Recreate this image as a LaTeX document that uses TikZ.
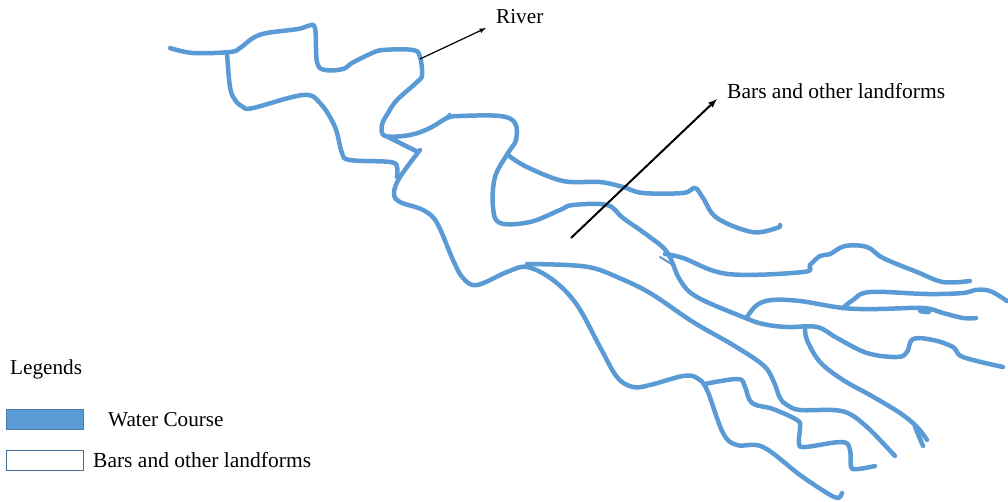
\documentclass[tikz,border=0pt]{standalone}
\usepackage{fontspec}
\setmainfont{Liberation Serif}
\usetikzlibrary{calc,arrows}
\definecolor{watercolor}{HTML}{5B9BD5}
\definecolor{edgecolor}{HTML}{41719C}
\tikzset{
	water/.style={draw=watercolor,line width=4.5pt,line cap=round,line join=round},
	label/.style={anchor=west,inner sep=0pt,font=\fontsize{21.2}{24}\selectfont},
	barlabel/.style={label,font=\fontsize{21.5}{24}\selectfont},
}
\begin{document}
\begin{tikzpicture}[x=1pt,y=-1pt]
			\useasboundingbox (0,0) rectangle (1008,501);
			\def \ten {0.6}
			
			%main river down to the first bend
			\draw [water] plot[smooth,tension=\ten] coordinates {(170,48) (193,53) (230,52) (240,48) (253,38) (267,33) (298,29) (308,26) (315,28) (317,62) (325,70) (343,69) (352,63) (370,54) (383,50) (413,50) (420,57) (422,75) (417,82) (397,100) (388,113) (382,125) (385,136) (410,135) (430,128) (447,118) (460,116) (500,116) (515,123) (516,140) (508,153) (495,177) (493,207) (500,223) (530,222) (560,210) (573,205) (607,205) (623,218) (647,235) (667,252) (680,280) (697,297) (743,317) (763,324) (787,327) (817,327) (837,338) (867,353) (897,357) (907,352) (913,339) (933,340) (953,347) (963,357) (1003,367)};
			\draw [water,line width=3pt] (444,120) -- (450,114);
			\draw [water,line width=2pt] (660,257) -- (673,265);
			
			%left loop
			\draw [water] plot[smooth,tension=\ten] coordinates {(227,53) (230,87) (235,100) (243,107) (253,108) (303,95) (320,103) (335,127) (342,153) (350,160) (390,162) (397,167) (397,177)};
			\draw [water] (388,137) -- (418,152);
			
			%lower channel
			\draw [water] plot[smooth,tension=\ten] coordinates {(420,150) (400,177) (394,193) (400,202) (423,210) (437,223) (453,260) (463,278) (477,285) (507,272) (527,267) (553,280) (577,305) (600,347) (617,377) (633,387) (650,385) (683,376) (697,378) (707,390) (723,433) (737,445) (763,447) (800,475) (827,493) (838,498) (842,493)};
			
			%second channel from the bar head
			\draw [water] plot[smooth,tension=\ten] coordinates {(527,264) (567,265) (593,268) (617,277) (650,293) (693,322) (733,345) (763,365) (773,380) (780,398) (787,405) (800,410) (833,410) (850,414) (867,427) (880,440) (895,456)};
			
			%upper branches
			\draw [water] plot[smooth,tension=\ten] coordinates {(508,155) (523,165) (550,177) (570,182) (600,182) (623,187) (643,193) (683,193) (695,188) (703,198) (717,218) (752,232) (777,228) (780,225)};
			\draw [water] plot[smooth,tension=\ten] coordinates {(665,254) (683,258) (728,274) (803,272) (810,265) (820,256) (830,254) (845,246) (867,247) (883,258) (917,272) (943,282) (970,281)};
			
			%right branches
			\draw [water] plot[smooth,tension=\ten] coordinates {(747,317) (757,305) (772,300) (800,301) (843,308) (877,309) (923,308) (943,313) (963,318) (976,318)};
			\draw [water,line width=7pt] (921,310) -- (928,311);
			\draw [water] plot[smooth,tension=\ten] coordinates {(843,308) (853,300) (870,292) (927,294) (963,293) (975,290) (990,291) (1007,301)};
			\draw [water] plot[smooth,tension=\ten] coordinates {(805,327) (807,340) (820,362) (843,380) (870,395) (900,413) (917,427) (927,440)};
			\draw [water] (915,427) -- (923,446);
			
			%bottom branch
			\draw [water] plot[smooth,tension=\ten] coordinates {(705,384) (738,379) (745,387) (752,403) (773,409) (797,420) (800,427) (799,443) (805,447) (842,442) (850,450) (851,467) (858,469) (875,466)};
			
			%arrows
			\coordinate (riverfoot) at (420,59);
			\coordinate (riverhead) at (486,28);
			\coordinate (barfoot) at (571,238);
			\coordinate (barhead) at (717,99);
			\draw [-latex,line width=1.2pt] (riverfoot) -- (riverhead);
			\draw [-latex,line width=2pt] (barfoot) -- (barhead);
			\node[label] (rivertext) at (496,17) {River};
			\node[barlabel] (bartext) at (727,91) {Bars and other landforms};
			
			%legend
			\node[label] (legendtitle) at (10,369) {Legends};
			\draw [fill=watercolor,draw=edgecolor!70!watercolor] (6,409) rectangle (83,429);
			\node[label] (watertext) at (108,420) {Water Course};
			\draw [fill=white,draw=edgecolor] (6,450) rectangle (83,470);
			\node[barlabel] (landtext) at (93,460) {Bars and other landforms};
\end{tikzpicture}
\end{document}
